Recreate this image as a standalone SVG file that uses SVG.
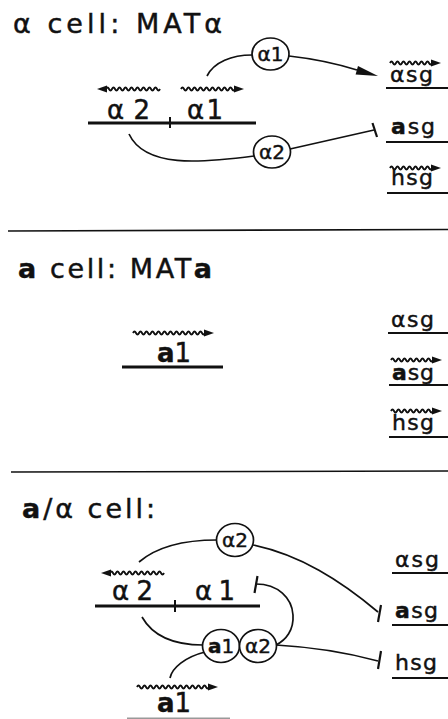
<svg xmlns="http://www.w3.org/2000/svg" width="448" height="719" viewBox="0 0 448 719">
<style>
text{font-family:"DejaVu Sans","Liberation Sans",sans-serif;fill:#111;stroke:#111;stroke-width:0.45}
.t{font-size:27px}
.g{font-size:26px}
.s{font-size:22px}
.c{font-size:20px}
.b{font-weight:bold}
.ln{stroke:#111;fill:none;stroke-width:1.7}
.gene{stroke:#111;stroke-width:2.8;fill:none}
.ul{stroke:#111;stroke-width:2.2;fill:none}
.wave{stroke:#111;stroke-width:1.9;fill:none}
.head{fill:#111}
.circ{fill:#fff;stroke:#111;stroke-width:1.7}
.sep{stroke:#111;stroke-width:1.6}
</style>
<defs>
<path id="w18" d="M0,0 q1.5,-3 3,0 t3,0 t3,0 t3,0 t3,0 t3,0 t3,0 t3,0 t3,0 t3,0 t3,0 t3,0 t3,0 t3,0 t3,0 t3,0 t3,0 t3,0"/>
<path id="w14" d="M0,0 q1.5,-3 3,0 t3,0 t3,0 t3,0 t3,0 t3,0 t3,0 t3,0 t3,0 t3,0 t3,0 t3,0 t3,0 t3,0"/>
<path id="w24" d="M0,0 q1.5,-3 3,0 t3,0 t3,0 t3,0 t3,0 t3,0 t3,0 t3,0 t3,0 t3,0 t3,0 t3,0 t3,0 t3,0 t3,0 t3,0 t3,0 t3,0 t3,0 t3,0 t3,0 t3,0 t3,0 t3,0"/>
<polygon id="hr" points="-1,-3.5 9,0 -1,3.5"/>
<polygon id="hl" points="1,-3.5 -9,0 1,3.5"/>
</defs>

<!-- Separators -->
<line class="sep" x1="8" y1="231" x2="448" y2="229.5"/>
<line class="sep" x1="11" y1="472" x2="448" y2="471"/>

<!-- ===== Section 1: alpha cell ===== -->
<g id="title1"><text class="t" x="13" y="33" textLength="209" lengthAdjust="spacing">α cell: MATα</text></g>

<g id="mat-alpha-1">
<line class="gene" x1="88" y1="123" x2="256" y2="123"/>
<line class="ln" x1="170" y1="117" x2="170" y2="128" style="stroke-width:2"/>
<text class="g" x="107" y="119" textLength="43" lengthAdjust="spacing">α2</text>
<text class="g" x="187" y="119" textLength="36" lengthAdjust="spacing">α1</text>
<use href="#w18" x="106" y="89" class="wave"/>
<use href="#hl" x="106" y="89" class="head"/>
<use href="#w18" x="181" y="89" class="wave"/>
<use href="#hr" x="235" y="89" class="head"/>
</g>

<g id="prot-a1-1"><ellipse class="circ" cx="270.5" cy="54" rx="18.5" ry="16"/><text class="c" x="270.5" y="61" text-anchor="middle">α1</text></g>
<g id="prot-a2-1"><ellipse class="circ" cx="272" cy="152" rx="18.5" ry="16"/><text class="c" x="272" y="159" text-anchor="middle">α2</text></g>

<g id="asg-1-alpha">
<use href="#w14" x="390" y="63" class="wave"/><use href="#hr" x="432" y="63" class="head"/>
<text class="s" x="390" y="82" textLength="43" lengthAdjust="spacing">αsg</text>
<line class="ul" x1="386" y1="88" x2="448" y2="88"/>
</g>
<g id="asg-1-a">
<text class="s" x="391" y="134" textLength="44" lengthAdjust="spacing"><tspan class="b">a</tspan>sg</text>
<line class="ul" x1="386" y1="142" x2="448" y2="142"/>
</g>
<g id="hsg-1">
<use href="#w14" x="390" y="168" class="wave"/><use href="#hr" x="432" y="168" class="head"/>
<text class="s" x="391" y="185" textLength="42" lengthAdjust="spacing">hsg</text>
<line class="ul" x1="387" y1="193" x2="448" y2="193"/>
</g>

<!-- ===== Section 2: a cell ===== -->
<g id="title2"><text class="t" x="18" y="278" textLength="194" lengthAdjust="spacing"><tspan class="b">a</tspan> cell: MAT<tspan class="b">a</tspan></text></g>
<g id="mat-a-2">
<use href="#w24" x="133" y="333" class="wave"/><use href="#hr" x="205" y="333" class="head"/>
<text class="g" x="174" y="362" text-anchor="middle"><tspan class="b">a</tspan>1</text>
<line class="gene" x1="122" y1="367" x2="223" y2="367"/>
</g>
<g id="asg-2-alpha">
<text class="s" x="391" y="327" textLength="43" lengthAdjust="spacing">αsg</text>
<line class="ul" x1="388" y1="333" x2="448" y2="333"/>
</g>
<g id="asg-2-a">
<use href="#w14" x="391" y="360" class="wave"/><use href="#hr" x="433" y="360" class="head"/>
<text class="s" x="392" y="380" textLength="42" lengthAdjust="spacing"><tspan class="b">a</tspan>sg</text>
<line class="ul" x1="389" y1="385" x2="448" y2="385"/>
</g>
<g id="hsg-2">
<use href="#w14" x="391" y="411" class="wave"/><use href="#hr" x="433" y="411" class="head"/>
<text class="s" x="392" y="430" textLength="42" lengthAdjust="spacing">hsg</text>
<line class="ul" x1="389" y1="437" x2="448" y2="437"/>
</g>

<!-- ===== Section 3: a/alpha cell ===== -->
<g id="title3"><text class="t" x="22" y="518" textLength="133" lengthAdjust="spacing"><tspan class="b">a</tspan>/α cell:</text></g>
<g id="mat-alpha-3">
<line class="gene" x1="95" y1="606" x2="260" y2="606"/>
<line class="ln" x1="175" y1="600" x2="175" y2="612" style="stroke-width:2"/>
<text class="g" x="112" y="600" textLength="41" lengthAdjust="spacing">α2</text>
<text class="g" x="195" y="600" textLength="40" lengthAdjust="spacing">α1</text>
<use href="#w18" x="110" y="573" class="wave"/><use href="#hl" x="110" y="573" class="head"/>
</g>
<g id="mat-a-3">
<use href="#w24" x="137" y="687" class="wave"/><use href="#hr" x="209" y="687" class="head"/>
<text class="g" x="174" y="712" text-anchor="middle"><tspan class="b">a</tspan>1</text>
<line x1="127" y1="718.5" x2="230" y2="718.5" stroke="#999" stroke-width="2"/>
</g>
<g id="asg-3-alpha">
<text class="s" x="395" y="567" textLength="44" lengthAdjust="spacing">αsg</text>
<line class="ul" x1="392" y1="573" x2="448" y2="573"/>
</g>
<g id="asg-3-a">
<text class="s" x="395" y="618" textLength="43" lengthAdjust="spacing"><tspan class="b">a</tspan>sg</text>
<line class="ul" x1="392" y1="625" x2="448" y2="625"/>
</g>
<g id="hsg-3">
<text class="s" x="395" y="670" textLength="42" lengthAdjust="spacing">hsg</text>
<line class="ul" x1="392" y1="678" x2="448" y2="678"/>
</g>

<!-- Connectors -->
<g id="connectors">
<path class="ln" d="M207,76 C214,62 232,55 252,55"/>
<path class="ln" d="M289,56 Q325,60 357,70"/>
<polygon class="head" points="378,76 355.6,74.5 358,65.9"/>
<path class="ln" d="M129,134 C145,168 200,163 254,156"/>
<path class="ln" d="M290,149 L374,130"/>
<line class="ln" x1="372.5" y1="123" x2="377" y2="137" style="stroke-width:2.2"/>

<path class="ln" d="M139,562 C160,544 190,540 217,540"/>
<path class="ln" d="M253,545 C300,555 340,580 378,612"/>
<line class="ln" x1="381" y1="605" x2="378" y2="622" style="stroke-width:2.2"/>
<line class="ln" x1="257.5" y1="576" x2="254.5" y2="593" style="stroke-width:2.2"/>
<path class="ln" d="M256,584 C278,584 292,598 293,615 C294,630 286,640 276,645"/>
<path class="ln" d="M142,617 C155,640 180,645 203,645"/>
<path class="ln" d="M205,652 C185,657 172,668 170,678"/>
<path class="ln" d="M276,645 Q330,648 378,661"/>
<line class="ln" x1="381" y1="651" x2="378" y2="669" style="stroke-width:2.2"/>
</g>

<g id="complex">
<ellipse class="circ" cx="221" cy="646" rx="18.5" ry="16.5"/><text class="c" x="221" y="653" text-anchor="middle"><tspan class="b">a</tspan>1</text>
<ellipse class="circ" cx="258" cy="646" rx="18.5" ry="16.5"/><text class="c" x="258" y="653" text-anchor="middle">α2</text>
</g>
<g id="prot-a2-3"><ellipse class="circ" cx="235" cy="540" rx="18.5" ry="16.5"/><text class="c" x="235" y="547" text-anchor="middle">α2</text></g>
</svg>
